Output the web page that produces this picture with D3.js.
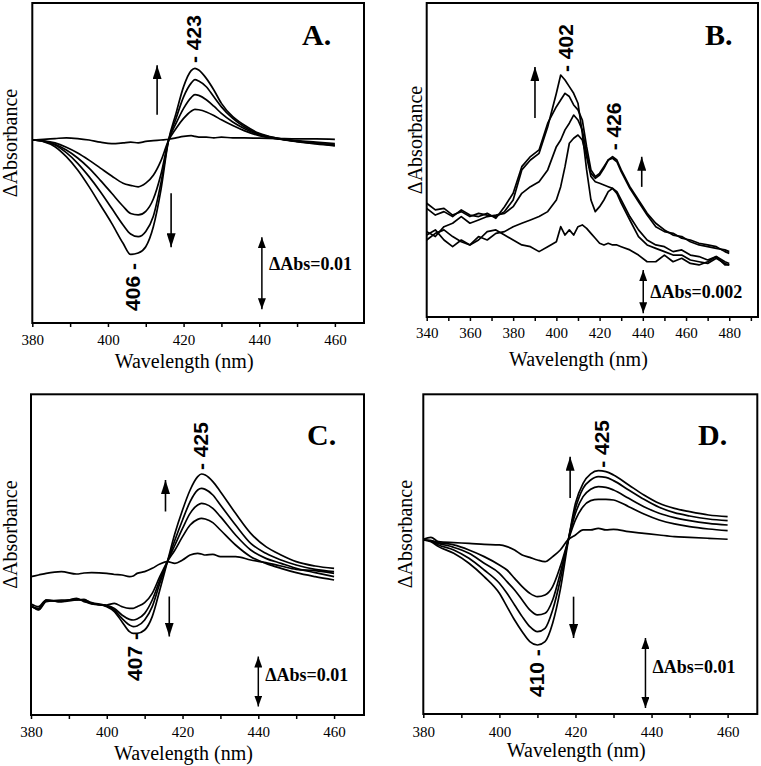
<!DOCTYPE html>
<html>
<head>
<meta charset="utf-8">
<script src="https://d3js.org/d3.v7.min.js"></script>
<style>
	body { margin: 0; background: #fff; }
	text { font-family: "Liberation Serif", "Times New Roman", serif; fill: #000; }
	.peak { font-family: "Liberation Sans", Arial, sans-serif; font-weight: bold; font-size: 21px; }
</style>
</head>
<body>
<svg id="chart"></svg>
<script>
// DATA (ΔA in units of 10^-3, i.e. mAbs; wavelength in nm)

// panel A
var nmA = [380,383,386,389,392,395,398,401,404,406,408,410,412,414,416,418,420,422,423,424,426,428,430,433,436,440,445,450,455,460]
var a0 = [0,0.1,0.2,0.3,0.2,0,-0.3,-0.5,-0.4,-0.3,-0.4,-0.2,-0.1,0,0.1,0.3,0.5,0.6,0.5,0.4,0.4,0.3,0.4,0.3,0.3,0.25,0.2,0.15,0.15,0.1]
var a1 = [0,-0.1,-0.4,-1.0,-1.8,-2.8,-3.9,-5.0,-6.0,-6.3,-6.5,-6.0,-4.9,-2.9,-0.1,1.6,3.0,4.0,4.26,4.2,3.9,3.4,2.8,2.0,1.3,0.6,0.15,-0.1,-0.3,-0.5]
var a2 = [0,-0.14,-0.6,-1.4,-2.5,-3.9,-5.6,-7.4,-9.2,-10.2,-10.4,-9.9,-8.2,-4.8,-0.1,2.3,4.4,5.9,6.3,6.2,5.6,4.7,3.7,2.5,1.6,0.7,0.15,-0.2,-0.45,-0.7]
var a3 = [0,-0.19,-0.69,-1.76,-3.24,-5.09,-7.18,-9.49,-11.8,-13.06,-13.43,-12.7,-10.6,-6.0,-0.1,3.0,6.0,7.9,8.4,8.2,7.4,6.0,4.6,3.0,1.85,0.83,0.23,-0.19,-0.46,-0.74]
var a4 = [0,-0.23,-0.93,-2.32,-4.17,-6.48,-9.03,-11.58,-14.35,-15.9,-15.7,-14.82,-12.04,-6.95,-0.09,3.70,7.41,9.63,9.95,9.72,8.56,6.95,5.09,3.24,2.08,0.93,0.23,-0.23,-0.56,-0.83]

// panel B
var nmB = [340,344,348,352,356,360,364,368,372,376,380,384,388,392,396,400,402,404,406,408,410,412,414,416,418,420,422,424,426,428,430,434,438,442,446,450,454,458,462,466,470,474,478,480]
var b0 = [0.93,1.24,1.40,1.09,0.85,0.70,0.93,1.32,1.40,1.16,0.93,0.70,0.62,0.39,0.62,0.85,1.55,1.16,1.40,1.16,1.55,1.63,1.47,1.24,1.01,0.78,0.70,0.78,0.70,0.70,0.62,0.47,0.23,-0.08,-0.08,0.23,-0.08,0.08,-0.16,-0.23,-0.08,0.16,-0.23,-0.23]
var b1 = [1.16,1.40,0.93,0.62,0.93,0.70,1.09,0.93,1.24,1.32,1.55,1.71,1.86,2.02,2.25,2.79,3.41,4.34,5.43,5.66,5.81,5.58,4.81,3.88,3.64,3.57,3.49,3.41,3.33,3.1,2.64,1.86,1.09,0.70,0.54,0.39,0.23,0.23,0,-0.08,-0.16,0.08,-0.16,-0.23]
var b2 = [1.32,1.09,1.55,1.71,2.02,1.71,1.86,2.02,2.09,2.17,2.48,3.1,3.41,3.64,4.19,5.27,5.58,6.05,6.36,6.74,6.51,6.05,4.96,4.03,3.80,3.95,4.26,4.65,4.73,4.57,4.11,3.33,2.71,2.09,1.55,1.32,1.24,1.01,0.93,0.78,0.70,0.62,0.39,0.31]
var b3 = [2.40,2.09,2.25,2.02,2.33,2.09,2.02,2.17,1.94,2.48,3.1,4.34,4.81,5.12,6.36,7.13,7.44,7.75,7.6,7.21,6.98,6.51,5.27,4.19,3.88,4.03,4.34,4.65,4.81,4.65,4.19,3.41,2.79,2.17,1.71,1.40,1.16,1.09,0.85,0.70,0.62,0.54,0.47,0.39]
var b4 = [2.64,2.33,2.40,2.09,2.25,2.02,2.17,2.09,2.02,2.25,2.79,4.19,4.65,4.96,6.2,7.75,8.6,8.37,8.06,7.75,7.29,5.89,4.19,2.79,2.25,2.48,2.79,3.18,3.33,3.18,2.79,2.02,1.40,0.93,0.70,0.62,0.39,0.47,0.23,0.16,0,0.16,-0.08,-0.16]

// panel C
var nmC = [380,382,384,388,392,394,396,400,402,404,406,407,408,410,412,414,416,418,420,422,424,425,426,428,430,434,438,442,446,450,455,460]
var c0 = [-0.33,0.0,0.33,0.67,0.2,0.4,0.47,0.33,0.1,0,-0.33,-0.2,0.33,0.67,1.33,2.2,2.67,2.33,3.0,4.0,4.33,4.2,4.0,4.13,3.67,3.67,3.0,2.47,1.8,1.13,0.87,0.33]
var c1 = [-5.8,-6.33,-5.0,-5.33,-5.0,-4.87,-5.67,-6.0,-5.67,-6.33,-6.67,-6.67,-6.33,-5.53,-3.67,-0.33,2.67,5.0,7.67,10.0,11.13,11.33,11.2,10.47,9.0,6.0,3.67,2.33,1.33,0.47,-0.33,-1.0]
var c2 = [-6.2,-6.87,-5.13,-5.2,-4.8,-5.13,-5.8,-6.13,-6.67,-8.0,-8.87,-9.0,-8.8,-7.67,-5.0,-1.0,2.67,6.0,9.33,12.33,14.0,14.33,14.2,13.33,11.67,8.0,5.0,3.33,2.33,1.33,0.47,-0.33]
var c3 = [-6.0,-7.0,-5.33,-5.0,-5.0,-5.0,-5.53,-6.2,-7.0,-8.67,-10.0,-10.33,-10.2,-9.0,-6.33,-1.67,2.67,7.0,11.0,14.67,17.0,17.33,17.13,16.0,14.0,10.0,6.33,4.33,3.0,2.0,1.13,0.67]
var c4 = [-6.33,-6.67,-5.0,-5.33,-4.67,-5.33,-5.67,-6.33,-7.33,-9.33,-11.33,-11.67,-11.67,-11.0,-8.33,-3.0,2.67,8.33,13.0,17.0,19.67,20.2,20.0,18.67,16.67,12.33,8.33,5.67,4.0,2.67,1.8,1.33]

// panel D
var nmD = [380,382,384,388,392,396,400,402,404,406,408,410,412,414,416,418,420,422,424,426,428,430,434,438,442,446,450,455,460]
var dd0 = [0.1,0.38,-0.24,-0.38,-0.48,-0.62,-0.71,-0.95,-1.43,-2.14,-2.48,-2.86,-3.1,-2.38,-1.43,0,0.71,1.43,1.43,1.67,1.43,1.52,1.19,0.95,0.71,0.48,0.38,0.24,0.1]
var dd1 = [0,-0.1,-0.38,-0.71,-1.43,-2.38,-3.57,-4.29,-5.48,-6.67,-7.62,-8.1,-7.86,-6.67,-3.81,-0.24,2.86,4.76,5.62,5.81,5.81,5.71,4.76,3.71,2.86,2.29,1.9,1.57,1.33]
var dd2 = [0,-0.1,-0.48,-1.05,-1.9,-3.33,-4.76,-5.95,-7.14,-8.57,-10.0,-10.71,-10.48,-8.57,-4.76,-0.24,3.81,6.19,7.24,7.62,7.52,7.14,5.95,4.76,3.81,3.19,2.76,2.38,2.14]
var dd3 = [0,-0.19,-0.71,-1.43,-2.62,-4.29,-6.19,-7.62,-9.29,-10.95,-12.38,-13.1,-12.62,-10.0,-5.71,-0.24,4.52,7.38,8.57,9.05,8.95,8.48,7.14,5.81,4.67,3.9,3.43,3.0,2.76]
var dd4 = [0,-0.24,-0.95,-1.9,-3.33,-5.24,-7.62,-9.52,-11.43,-13.1,-14.52,-15.0,-14.52,-11.9,-7.14,-0.48,5.24,8.1,9.43,9.9,9.76,9.29,7.86,6.43,5.24,4.52,4.05,3.57,3.33]

// tick labels
var ticksA = [380,400,420,440,460]
var ticksB = [340,360,380,400,420,440,460,480]

// annotations: [label, nm, mAbs, side]
var peaksA = [['423',422.5,10.7,'up'],['406',406.4,-17.1,'down']]
var peaksB = [['402',404,8.74,'up'],['426',426.3,5.1,'up']]
var peaksC = [['425',424.6,21,'up'],['407',407.4,-11.6,'down']]
var peaksD = [['425',426.9,10.3,'up'],['410',409.8,-15.6,'down']]

// arrows: [nm, tail, head]
var arrowsA = [[413,3.5,10.4],[416.7,-7.4,-14.9]]
var arrowsB = [[390.1,6.6,8.98],[439.5,3.4,4.8]]
var arrowsC = [[415.5,12.7,19],[416.5,-4.3,-12.3]]
var arrowsD = [[418.6,6,11.9],[419.5,-8.1,-14]]

// scale bars: [label, nm, from, to, label mAbs]
var barA = ['ΔAbs=0.01',440.7,-13.5,-23.5,-17.2]
var barB = ['ΔAbs=0.002',440.2,-0.47,-2.47,-1.49]
var barC = ['ΔAbs=0.01',440,-16.3,-26.3,-20]
var barD = ['ΔAbs=0.01',438.4,-14,-24,-18.1]

// CANVAS
var width = 761
var height = 766
var serif = '"Liberation Serif", "Times New Roman", serif'

var svg = d3.select('#chart')
	.attr('width', width)
	.attr('height', height)

var defs = svg.append('defs')
defs.append('marker')
	.attr('id', 'head')
	.attr('markerUnits', 'userSpaceOnUse')
	.attr('markerWidth', 14).attr('markerHeight', 9)
	.attr('refX', 14).attr('refY', 4.5)
	.attr('orient', 'auto-start-reverse')
	.append('path').attr('d', 'M0,0 L14,4.5 L0,9 Z').attr('fill', '#000')
defs.append('marker')
	.attr('id', 'small')
	.attr('markerUnits', 'userSpaceOnUse')
	.attr('markerWidth', 11).attr('markerHeight', 8)
	.attr('refX', 11).attr('refY', 4)
	.attr('orient', 'auto-start-reverse')
	.append('path').attr('d', 'M0,0 L11,4 L0,8 Z').attr('fill', '#000')

// PANELS
var panels = [
	{ letter: 'A.', box: [32.3, 3, 364, 323], x0: 380, xMax: 467.7, y: [-25.42, 19.03],
		nm: nmA, series: [a0, a1, a2, a3, a4], smooth: true, labels: ticksA,
		peaks: peaksA, arrows: arrowsA, bar: barA, letterPos: [302, 45], yTitle: 10, tickY: 340, titleY: 368 },
	{ letter: 'B.', box: [426.7, 3, 758, 317], x0: 340, xMax: 493.3, y: [-2.65, 11.95],
		nm: nmB, series: [b0, b1, b2, b3, b4], smooth: false, labels: ticksB,
		peaks: peaksB, arrows: arrowsB, bar: barB, letterPos: [705, 45], yTitle: 415, tickY: 333, titleY: 366 },
	{ letter: 'C.', box: [31, 394.3, 364, 715], x0: 380, xMax: 467.9, y: [-28, 36.14],
		nm: nmC, series: [c0, c1, c2, c3, c4], smooth: true, labels: ticksA,
		peaks: peaksC, arrows: arrowsC, bar: barC, letterPos: [307, 445], yTitle: 10, tickY: 732, titleY: 760 },
	{ letter: 'D.', box: [423.3, 394.3, 757.3, 714], x0: 380, xMax: 467.8, y: [-24.86, 20.81],
		nm: nmD, series: [dd0, dd1, dd2, dd3, dd4], smooth: true, labels: ticksA,
		peaks: peaksD, arrows: arrowsD, bar: barD, letterPos: [698, 445], yTitle: 405, tickY: 732, titleY: 757 }
]

panels.forEach(drawPanel)

function drawPanel(p) {
	var left = p.box[0], top = p.box[1], right = p.box[2], bottom = p.box[3]
	var g = svg.append('g')

	var x = d3.scaleLinear().domain([p.x0, p.xMax]).range([left, right])
	var y = d3.scaleLinear().domain(p.y).range([bottom, top])

	// spectra
	var line = d3.line()
		.x(function(d) { return x(d[0]) })
		.y(function(d) { return y(d[1]) })
		.curve(p.smooth ? d3.curveMonotoneX : d3.curveLinear)

	p.series.forEach(function(s) {
		g.append('path')
			.datum(p.nm.map(function(n, i) { return [n, s[i]] }))
			.attr('d', line)
			.attr('fill', 'none')
			.attr('stroke', '#000')
			.attr('stroke-width', 1.7)
			.attr('stroke-linejoin', 'round')
	})

	// bottom axis, ticks every 10 nm, labels every 20
	var ticks = d3.range(p.x0, p.xMax, 10)
	var axis = g.append('g')
		.attr('transform', 'translate(0,' + bottom + ')')
		.attr('font-family', null)
		.call(d3.axisBottom(x).tickValues(ticks).tickSize(4).tickSizeOuter(0)
			.tickFormat(function(d) { return p.labels.indexOf(d) >= 0 ? d : '' }))
	axis.attr('font-family', serif)
	axis.select('.domain').remove()
	axis.selectAll('line').attr('stroke', '#000').attr('stroke-width', 1.5)
	axis.selectAll('text')
		.attr('y', p.tickY - bottom)
		.attr('dy', '0.35em')
		.style('font-family', serif)
		.style('font-size', '15px')
		.attr('fill', '#000')

	// frame
	g.append('rect')
		.attr('x', left).attr('y', top)
		.attr('width', right - left).attr('height', bottom - top)
		.attr('fill', 'none').attr('stroke', '#000').attr('stroke-width', 2)

	// titles
	g.append('text')
		.attr('x', (left + right) / 2 - 14)
		.attr('y', p.titleY)
		.attr('text-anchor', 'middle')
		.style('font-family', serif)
		.style('font-size', '20px')
		.text('Wavelength (nm)')
	g.append('text')
		.attr('transform', 'translate(' + p.yTitle + ',' + ((top + bottom) / 2 - 20) + ') rotate(-90)')
		.attr('text-anchor', 'middle')
		.attr('dy', '0.35em')
		.style('font-family', serif)
		.style('font-size', '20px')
		.text('ΔAbsorbance')

	// panel letter
	g.append('text')
		.attr('x', p.letterPos[0]).attr('y', p.letterPos[1])
		.style('font-family', serif)
		.style('font-size', '30px').style('font-weight', 'bold')
		.text(p.letter)

	// peak labels
	p.peaks.forEach(function(k) {
		g.append('text')
			.attr('class', 'peak')
			.attr('transform', 'translate(' + x(k[1]) + ',' + y(k[2]) + ') rotate(-90)')
			.attr('text-anchor', k[3] == 'up' ? 'start' : 'end')
			.attr('dy', '0.36em')
			.text(k[3] == 'up' ? '- ' + k[0] : k[0] + ' -')
	})

	// arrows
	p.arrows.forEach(function(a) {
		g.append('line')
			.attr('x1', x(a[0])).attr('x2', x(a[0]))
			.attr('y1', y(a[1])).attr('y2', y(a[2]))
			.attr('stroke', '#000').attr('stroke-width', 1.6)
			.attr('marker-end', 'url(#head)')
	})

	// scale bar
	var b = p.bar
	g.append('line')
		.attr('x1', x(b[1])).attr('x2', x(b[1]))
		.attr('y1', y(b[2])).attr('y2', y(b[3]))
		.attr('stroke', '#000').attr('stroke-width', 1.5)
		.attr('marker-start', 'url(#small)')
		.attr('marker-end', 'url(#small)')
	g.append('text')
		.attr('x', x(b[1]) + 7)
		.attr('y', y(b[4]))
		.attr('dy', '0.35em')
		.style('font-family', serif)
		.style('font-size', '18px').style('font-weight', 'bold')
		.text(b[0])
}
</script>
</body>
</html>
